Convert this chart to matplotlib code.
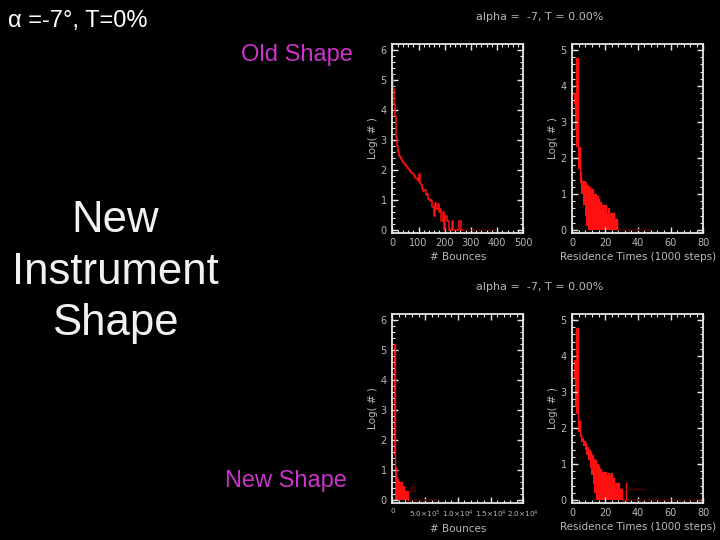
"""
alpha = -7 deg, T = 0% : old vs new instrument shape histograms
"""

from matplotlib import pyplot as plt
from matplotlib.ticker import AutoMinorLocator, FixedLocator, FixedFormatter

# --- old shape, # bounces (log of counts) ---
old_b_x = [2, 5, 8, 11, 14, 17, 20, 23, 26, 30, 35, 40, 45, 50, 55, 60, 65, 70, 75, 80,
           85, 90, 95, 100, 103, 106, 110, 115, 120, 125, 130, 135, 140, 145, 150, 155,
           160, 165, 170, 175, 180, 185, 190, 195, 200, 205, 210, 215, 220, 225, 230,
           235, 240, 250, 260, 265, 270]
old_b_y = [5.2, 4.7, 4.2, 3.8, 3.4, 3.1, 2.8, 2.6, 2.48, 2.42, 2.36, 2.3, 2.24, 2.18,
           2.12, 2.06, 2.0, 1.96, 1.9, 1.86, 1.8, 1.74, 1.7, 1.62, 1.85, 1.58, 1.5, 1.4,
           1.3, 1.34, 1.15, 1.2, 1.04, 0.95, 1.0, 0.78, 0.48, 0.9, 0.7, 0.85, 0.6, 0.7,
           0.3, 0.6, 0.0, 0.48, 0.3, 0.3, 0.0, 0.0, 0.3, 0.0, 0.0, 0.0, 0.3, 0.0, 0.0]
old_b_tail_x = [270, 300, 330, 360, 400]
old_b_tail_y = [0, 0, 0, 0, 0]

# --- old shape, residence time (1000 steps) ---
old_t_x = list(range(1, 29))
old_t_hi = [3.8, 3.3, 4.77, 2.3, 1.6, 1.35, 1.35, 1.3, 1.25, 1.2, 1.1, 1.15, 1.0, 1.0,
            0.95, 0.85, 0.78, 0.7, 0.6, 0.7, 0.48, 0.6, 0.48, 0.3, 0.48, 0.3, 0.3, 0.0]
old_t_lo = [3.5, 2.8, 2.3, 1.7, 1.3, 1.0, 0.7, 0.4, 0.1, 0, 0, 0, 0, 0,
            0, 0, 0, 0, 0, 0, 0, 0, 0, 0, 0, 0, 0, 0]
old_t_tail_x = [28, 35, 42, 48]
old_t_tail_y = [0, 0, 0, 0]

# --- new shape, # bounces ---
new_b_x = [300, 380, 460, 560, 700, 850, 1000, 1150, 1300, 1450, 1600, 1750, 1900,
           2050, 2200, 2350, 2500]
new_b_hi = [5.2, 3.0, 1.1, 0.78, 0.78, 0.7, 0.6, 0.6, 0.48, 0.6, 0.48, 0.48, 0.3,
            0.3, 0.3, 0.3, 0.0]
new_b_lo = [1.5, 1.0, 0, 0, 0, 0, 0, 0, 0, 0, 0, 0, 0, 0, 0, 0, 0]
new_b_tail_x = [2500, 3500, 5000, 7300]
new_b_tail_y = [0, 0, 0, 0]
new_b_dim_x = [2700, 3100, 3460]
new_b_dim_y = [0.3, 0.48, 0.3]

# --- new shape, residence time ---
new_t_x = list(range(1, 34))
new_t_hi = [3.9, 3.3, 4.77, 2.2, 1.8, 1.72, 1.65, 1.58, 1.48, 1.4, 1.33, 1.26, 1.15,
            1.1, 1.0, 0.95, 0.85, 0.78, 0.74, 0.78, 0.7, 0.74, 0.7, 0.74, 0.6, 0.48,
            0.3, 0.48, 0.3, 0.3, 0.0, 0.0, 0.48]
new_t_lo = [3.4, 2.6, 2.4, 1.9, 1.75, 1.6, 1.5, 1.4, 1.25, 1.1, 0.9, 0.7, 0.45, 0.2,
            0, 0, 0, 0, 0, 0, 0, 0, 0, 0, 0, 0, 0, 0, 0, 0, 0, 0, 0]
new_t_tail_x = [31, 45, 60, 79]
new_t_tail_y = [0, 0, 0, 0]
new_t_dim_x = [33, 38, 44]
new_t_dim_y = [0.3, 0.3, 0.3]

bounce_ticks = [0, 5000, 10000, 15000, 20000]
bounce_labels = ["0", r"5.0$\times$10$^3$", r"1.0$\times$10$^4$",
                 r"1.5$\times$10$^4$", r"2.0$\times$10$^4$"]

RED = "#ff1010"
DIM = "#5a0000"
GRAY = "#b8b8b8"
AXC = "#e8e8e8"

fig = plt.figure(figsize=(7.2, 5.4), dpi=100, facecolor="black")


def style(ax, xmax, ymin, ymax, xlabel):
    ax.set_facecolor("black")
    ax.set_xlim(0, xmax)
    ax.set_ylim(ymin, ymax)
    for s in ax.spines.values():
        s.set_color(AXC)
        s.set_linewidth(1.3)
    ax.tick_params(which="both", direction="in", top=True, right=True,
                   colors=AXC, labelcolor=GRAY, labelsize=7, pad=4)
    ax.tick_params(which="major", length=4, width=1)
    ax.tick_params(which="minor", length=2, width=0.8)
    ax.xaxis.set_minor_locator(AutoMinorLocator(5))
    ax.yaxis.set_minor_locator(AutoMinorLocator(5))
    ax.set_xlabel(xlabel, color=GRAY, fontsize=7.5, labelpad=3)
    ax.set_ylabel("Log( # )", color=GRAY, fontsize=7.5, labelpad=2)


def add_pair(bottom, bounces, tx, tail_b, tail_t, dims_b, dims_t, big_bounce):
    ax1 = fig.add_axes([0.5449, bottom, 0.1819, 0.3489])
    ax2 = fig.add_axes([0.7949, bottom, 0.1819, 0.3489])

    if big_bounce:
        x, hi, lo = bounces
        ax1.fill_between(x, lo, hi, step="mid", color=RED, lw=0)
        ax1.step(x, hi, where="mid", color=RED, lw=1.0)
        style(ax1, 20000, -0.09, 6.19, "# Bounces")
        ax1.xaxis.set_major_locator(FixedLocator(bounce_ticks))
        ax1.xaxis.set_major_formatter(FixedFormatter(bounce_labels))
        ax1.tick_params(axis="x", labelsize=5.2)
    else:
        x, y = bounces
        ax1.step(x, y, where="mid", color=RED, lw=1.1)
        style(ax1, 500, -0.09, 6.19, "# Bounces")
        ax1.set_xticks(range(0, 501, 100))
    ax1.plot(*tail_b, color=DIM, lw=1.2, ls=(0, (2, 1)))
    if dims_b:
        ax1.step(*dims_b, where="mid", color=DIM, lw=1.0)
    ax1.set_yticks(range(0, 7))

    x, hi, lo = tx
    ax2.fill_between(x, lo, hi, step="mid", color=RED, lw=0)
    ax2.step(x, hi, where="mid", color=RED, lw=1.0)
    ax2.plot(*tail_t, color=DIM, lw=1.2, ls=(0, (2, 1)))
    if dims_t:
        ax2.step(*dims_t, where="mid", color=DIM, lw=1.0)
    style(ax2, 80, -0.075, 5.16, "Residence Times (1000 steps)")
    ax2.set_xticks(range(0, 81, 20))
    ax2.set_yticks(range(0, 6))

    fig.text(0.75, bottom + 0.3489 + 0.051, "alpha =  -7, T = 0.00%",
             color=GRAY, fontsize=8, ha="center", va="center")


add_pair(0.5691, (old_b_x, old_b_y), (old_t_x, old_t_hi, old_t_lo),
         (old_b_tail_x, old_b_tail_y), (old_t_tail_x, old_t_tail_y),
         None, None, False)
add_pair(0.0691, (new_b_x, new_b_hi, new_b_lo), (new_t_x, new_t_hi, new_t_lo),
         (new_b_tail_x, new_b_tail_y), (new_t_tail_x, new_t_tail_y),
         (new_b_dim_x, new_b_dim_y), (new_t_dim_x, new_t_dim_y), True)

SLIDE = ["Liberation Sans", "DejaVu Sans"]
fig.text(8 / 720, 1 - 21 / 540, "α =-7°, T=0%", color="white", fontsize=17,
         family=SLIDE, ha="left", va="center")
fig.text(297 / 720, 1 - 55 / 540, "Old Shape", color="#cc33cc", fontsize=17,
         family=SLIDE, ha="center", va="center")
fig.text(286 / 720, 1 - 481 / 540, "New Shape", color="#cc33cc", fontsize=17,
         family=SLIDE, ha="center", va="center")
fig.text(115 / 720, 1 - 272 / 540, "New\nInstrument\nShape", color="#f0f0f5",
         fontsize=31.5, family=SLIDE, ha="center", va="center", linespacing=1.32)

plt.savefig("out.png", dpi=100, facecolor="black")
